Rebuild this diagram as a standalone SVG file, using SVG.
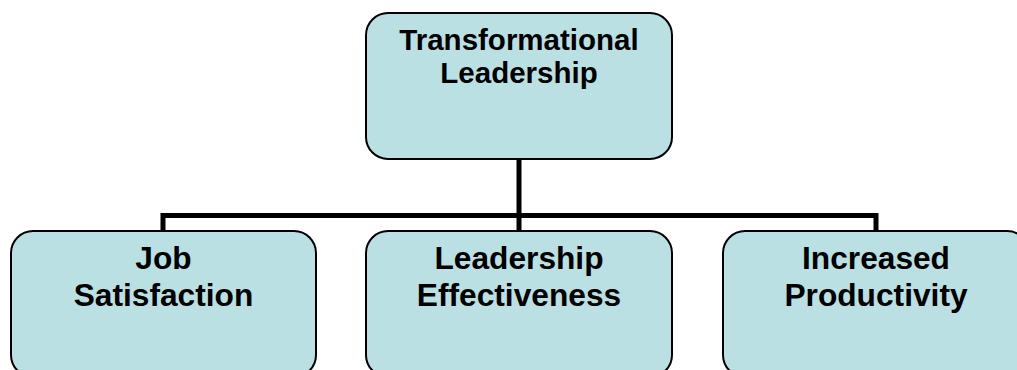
<svg xmlns="http://www.w3.org/2000/svg" width="1017" height="370" viewBox="0 0 1017 370">
<style>
.box{fill:#BBE0E3;stroke:#000;stroke-width:2}
.conn{fill:none;stroke:#000;stroke-width:5;stroke-linecap:butt;stroke-linejoin:miter}
.t{font-family:"Liberation Sans",Arial,sans-serif;font-weight:bold;fill:#000;text-anchor:middle}
.top{font-size:29.5px}
.bot{font-size:31.7px}
</style>
<rect width="1017" height="370" fill="#fff"/>
<g id="connectors">
<path class="conn" d="M519,159 V231"/>
<path class="conn" d="M163,231 V215.5 H876 V231"/>
</g>
<g id="node-transformational">
<rect class="box" x="366" y="13" width="306" height="146" rx="22"/>
<text class="t top" x="519" y="50">Transformational</text>
<text class="t top" x="519" y="83">Leadership</text>
</g>
<g id="node-job">
<rect class="box" x="11" y="231" width="305" height="146" rx="22"/>
<text class="t bot" x="163.5" y="269">Job</text>
<text class="t bot" x="163.5" y="306">Satisfaction</text>
</g>
<g id="node-leadership">
<rect class="box" x="366" y="231" width="306" height="146" rx="22"/>
<text class="t bot" x="519" y="269">Leadership</text>
<text class="t bot" x="519" y="306">Effectiveness</text>
</g>
<g id="node-productivity">
<rect class="box" x="723" y="231" width="306" height="146" rx="22"/>
<text class="t bot" x="876" y="269">Increased</text>
<text class="t bot" x="876" y="306">Productivity</text>
</g>
</svg>
